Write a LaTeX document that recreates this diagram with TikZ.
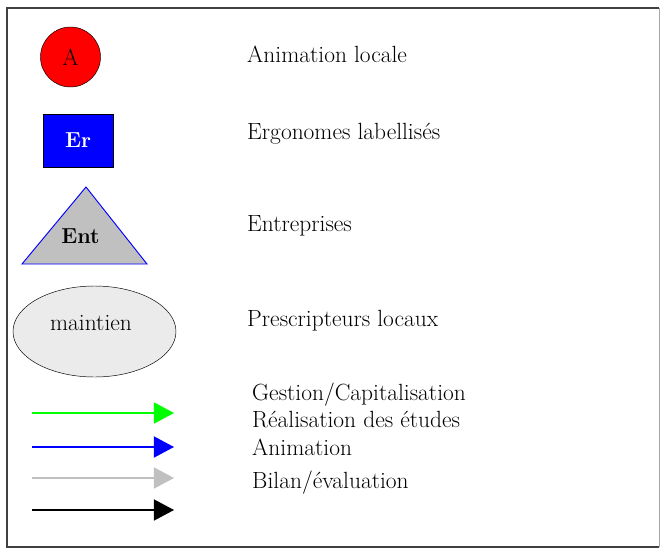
\documentclass[tikz,border=0pt]{standalone}
\usetikzlibrary{arrows.meta,shapes.geometric}
\definecolor{trigris}{RGB}{192,192,192}
\definecolor{ellgris}{RGB}{235,235,235}
\tikzset{
  txt/.style={inner sep=0pt, font=\fontsize{20}{24}\selectfont},
  lbl/.style={txt, anchor=base west},
  legarrow/.style={line width=1.1pt, -{Triangle[length=0.6cm,width=0.63cm]}},
}
\begin{document}
\begin{tikzpicture}[x=0.03cm,y=-0.03cm]
  \useasboundingbox (0,0) rectangle (660,552);
  % cadre
  \draw[line width=1.6pt, black!75] (659,547) -- (7,547) -- (7,8) -- (659,8);
  \draw[line width=0.8pt, black!35] (659,8) -- (659,547);
  % symboles
  \node (anim) [circle, draw, fill=red, minimum size=1.8cm, inner sep=0pt,
    font=\fontsize{20}{24}\selectfont] at (70.5,57) {A};
  \node (ergo) [rectangle, draw, line width=0.8pt, fill=blue, text=white,
    minimum width=2.1cm, minimum height=1.59cm, inner sep=0pt,
    font=\fontsize{18.5}{22}\selectfont\bfseries] at (78,140.5) {Er};
  \draw[blue, fill=trigris, line width=0.8pt] (86,187) -- (147,264) -- (22,264) -- cycle;
  \node (ent) [txt, font=\fontsize{18.5}{22}\selectfont\bfseries] at (80.5,236) {Ent};
  \node (presc) [ellipse, draw, fill=ellgris, minimum width=4.89cm,
    minimum height=2.73cm, inner sep=0pt] at (94.5,331.5) {};
  \node (maint) [txt] at (91,323) {maintien};
  % legende
  \node (l1) [lbl] at (247,62) {Animation locale};
  \node (l2) [lbl] at (247,139) {Ergonomes labellisés};
  \node (l3) [lbl] at (247,231) {Entreprises};
  \node (l4) [lbl] at (247,326) {Prescripteurs locaux};
  \node (f1) [lbl] at (252,400) {Gestion/Capitalisation};
  \node (f2) [lbl] at (252,427) {Réalisation des études};
  \node (f3) [lbl] at (252,455) {Animation};
  \node (f4) [lbl] at (252,488) {Bilan/évaluation};
  % fleches
  \coordinate (g0) at (32,413); \coordinate (g1) at (174,413);
  \coordinate (b0) at (32,447); \coordinate (b1) at (174,447);
  \coordinate (s0) at (32,478); \coordinate (s1) at (174,478);
  \coordinate (n0) at (32,510); \coordinate (n1) at (174,510);
  \draw[legarrow, green] (g0) -- (g1);
  \draw[legarrow, blue] (b0) -- (b1);
  \draw[legarrow, trigris] (s0) -- (s1);
  \draw[legarrow, black] (n0) -- (n1);
\end{tikzpicture}
\end{document}
